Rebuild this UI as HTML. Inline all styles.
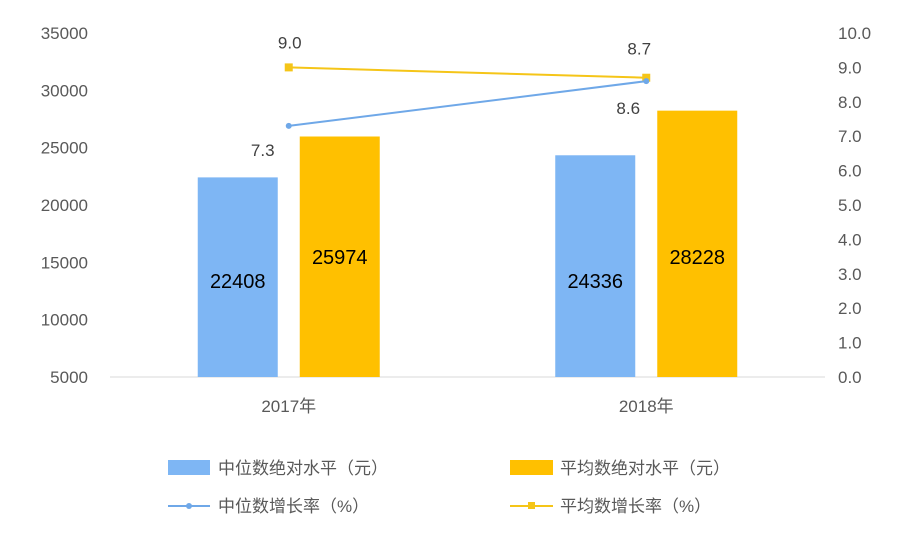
<!DOCTYPE html>
<html><head><meta charset="utf-8">
<style>
body{margin:0;background:#fff;}
svg text{font-family:"Liberation Sans","Noto Sans CJK SC",sans-serif;}
</style></head>
<body>
<svg id="chart" width="920" height="542" viewBox="0 0 920 542" xmlns="http://www.w3.org/2000/svg">
<g id="axes"></g>
<g id="bars"></g>
<g id="lines"></g>
<g id="legend">
  <rect x="168" y="460" width="42" height="15" fill="#7eb6f4"/>
  <text x="218" y="474" font-size="17" fill="#595959">中位数绝对水平（元）</text>
  <rect x="510" y="460" width="43" height="15" fill="#ffc000"/>
  <text x="560" y="474" font-size="17" fill="#595959">平均数绝对水平（元）</text>
  <line x1="168" y1="506" x2="210" y2="506" stroke="#6fa8e8" stroke-width="2"/>
  <circle cx="189" cy="506" r="3" fill="#6fa8e8"/>
  <text x="218" y="512" font-size="17" fill="#595959">中位数增长率（%）</text>
  <line x1="510" y1="506" x2="553" y2="506" stroke="#f5c518" stroke-width="2"/>
  <rect x="528" y="502" width="7" height="7" fill="#f5c518"/>
  <text x="560" y="512" font-size="17" fill="#595959">平均数增长率（%）</text>
</g>
</svg>
<script>
const categories=["2017年","2018年"];
const medianAbs=[22408,24336];
const meanAbs=[25974,28228];
const medianRate=[7.3,8.6];
const meanRate=[9.0,8.7];
const leftTicks=[5000,10000,15000,20000,25000,30000,35000];
const rightTicks=[0,1,2,3,4,5,6,7,8,9,10];
const NS="http://www.w3.org/2000/svg";
const pTop=33,pBottom=377,pLeft=110,pRight=825;
const yL=v=>pBottom-(v-5000)/30000*(pBottom-pTop);
const yR=v=>pBottom-v/10*(pBottom-pTop);
const xC=i=>pLeft+(pRight-pLeft)*(i+0.5)/categories.length;
function mk(tag,attrs,parent,txt){const e=document.createElementNS(NS,tag);for(const k in attrs)e.setAttribute(k,attrs[k]);if(txt!==undefined)e.textContent=txt;document.getElementById(parent).appendChild(e);return e;}
const base=mk('line',{x1:pLeft,x2:pRight,y1:pBottom,y2:pBottom,stroke:'#d9d9d9','stroke-width':1},'axes');


leftTicks.forEach(t=>{const e=mk('text',{x:88,y:yL(t)+6,'text-anchor':'end','font-size':17,fill:'#595959'},'axes',String(t));

});
rightTicks.forEach(t=>{const e=mk('text',{x:838,y:yR(t)+6,'font-size':17,fill:'#595959'},'axes',t.toFixed(1));

});
categories.forEach((c,i)=>{const e=mk('text',{x:xC(i),y:412,'text-anchor':'middle','font-size':17,fill:'#595959'},'axes',c);


const bw=80;
const b1=mk('rect',{x:xC(i)-91,y:yL(medianAbs[i]),width:bw,height:pBottom-yL(medianAbs[i]),fill:'#7eb6f4'},'bars');


const b2=mk('rect',{x:xC(i)+11,y:yL(meanAbs[i]),width:bw,height:pBottom-yL(meanAbs[i]),fill:'#ffc000'},'bars');


const l1=mk('text',{x:xC(i)-51,y:288,'text-anchor':'middle','font-size':20,fill:'#000'},'bars',String(medianAbs[i]));


const l2=mk('text',{x:xC(i)+51,y:264,'text-anchor':'middle','font-size':20,fill:'#000'},'bars',String(meanAbs[i]));

});
function series(vals,color,name,square,offs){
const pts=vals.map((v,i)=>xC(i)+','+yR(v)).join(' ');
const pl=mk('polyline',{points:pts,fill:'none',stroke:color,'stroke-width':2},'lines');


vals.forEach((v,i)=>{let m;
if(square)m=mk('rect',{x:xC(i)-4,y:yR(v)-4,width:8,height:8,fill:color},'lines');
else m=mk('circle',{cx:xC(i),cy:yR(v),r:3,fill:color},'lines');


const t=mk('text',{x:xC(i)+offs[i][0],y:yR(v)+offs[i][1],'text-anchor':'middle','font-size':17,fill:'#404040'},'lines',v.toFixed(1));

});}
series(meanRate,'#f5c518','mean-rate',true,[[1,-19],[-7,-23]]);
series(medianRate,'#6fa8e8','median-rate',false,[[-26,30],[-18,33]]);
</script>
</body></html>
